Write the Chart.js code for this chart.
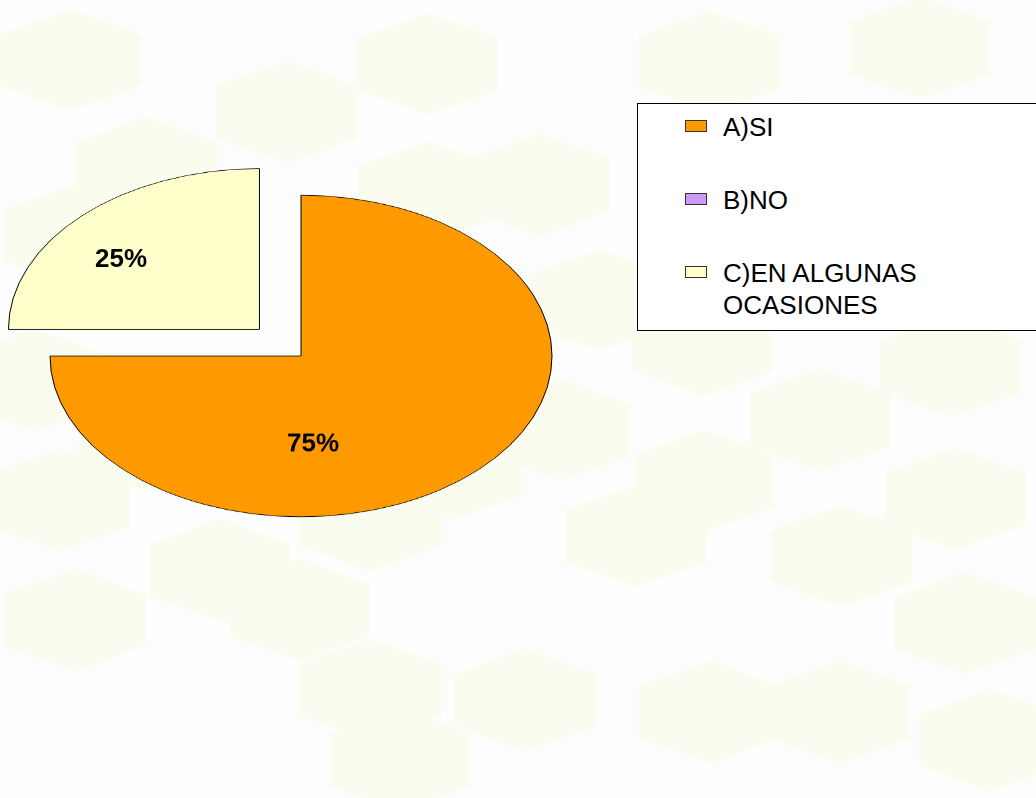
<!DOCTYPE html>
<html>
<head>
<meta charset="utf-8">
<title>Encuesta</title>
<script src="https://cdn.jsdelivr.net/npm/chart.js@4.4.0/dist/chart.umd.min.js"></script>
<style>
  body { margin: 0; width: 1036px; height: 798px; background: #fdfdfd; overflow: hidden; position: relative; font-family: "Liberation Sans", Arial, sans-serif; }
  #bg { position: absolute; left: 0; top: 0; }
  #pieWrap { position: absolute; left: 0; top: 151px; transform-origin: 0 0; transform: scaleY(0.6406); }
  #legend { position: absolute; left: 637px; top: 103px; width: 420px; height: 226px; border: 1px solid #000; background: #fff; }
  .item { position: absolute; left: 85px; font-size: 26px; line-height: 32px; color: #000; width: 260px; }
  .sw { position: absolute; left: -38px; top: 9px; width: 20px; height: 10px; border: 1px solid #333; }
</style>
</head>
<body>
<canvas id="bg" width="1036" height="798"></canvas>
<div id="pieWrap"><canvas id="pie" width="602" height="640"></canvas></div>
<div id="legend"></div>

<script>
  // data
  const opciones = ["A)SI", "B)NO", "C)EN ALGUNAS OCASIONES"];
  const respuestas = [75, 0, 25];
  const colores = ["#ff9900", "#cc99ff", "#ffffcc"];
  const separacion = [0, 0, 235];   // exploded slice (arc offset)

  // where each % label sits: angle (deg) from slice centre, fraction of radius
  const labelSpots = [{ ang: 85, dist: 0.55 }, null, { ang: 218, dist: 0.70 }];
  const squash = 410 / 640;

  // faint hexagon backdrop
  function drawBackground() {
    const ctx = document.getElementById('bg').getContext('2d');
    const hexes = [[71,60],[287,112],[427,64],[146,168],[428,192],[540,185],[710,62],[920,48],[800,150],
      [75,235],[35,380],[150,440],[60,500],[220,570],[75,620],[370,520],[370,690],[525,700],[710,712],
      [840,712],[636,536],[704,481],[841,556],[956,499],[965,623],[951,366],[703,345],[560,430],
      [450,470],[300,610],[400,760],[990,740],[600,300],[820,420]];
    ctx.fillStyle = '#fafcef';
    hexes.forEach(h => {
      const [cx, cy] = h;
      ctx.beginPath();
      ctx.moveTo(cx, cy - 51);
      ctx.lineTo(cx + 71, cy - 26);
      ctx.lineTo(cx + 71, cy + 26);
      ctx.lineTo(cx, cy + 51);
      ctx.lineTo(cx - 71, cy + 26);
      ctx.lineTo(cx - 71, cy - 26);
      ctx.closePath();
      ctx.fill();
    });
  }
  drawBackground();

  const pctLabels = {
    id: 'pctLabels',
    afterDatasetsDraw(chart) {
      const ctx = chart.ctx;
      const vals = chart.data.datasets[0].data;
      const total = vals.reduce((a, b) => a + b, 0);
      chart.getDatasetMeta(0).data.forEach((arc, i) => {
        const spot = labelSpots[i];
        if (!spot || !vals[i]) return;
        const mid = (arc.startAngle + arc.endAngle) / 2;
        const shift = (arc.options.offset || 0) / 4;
        const a = spot.ang * Math.PI / 180;
        const x = arc.x + Math.cos(mid) * shift + Math.cos(a) * arc.outerRadius * spot.dist;
        const y = arc.y + Math.sin(mid) * shift + Math.sin(a) * arc.outerRadius * spot.dist;
        ctx.save();
        ctx.translate(x, y);
        ctx.scale(1, 1 / squash);
        ctx.font = 'bold 26px "Liberation Sans", Arial, sans-serif';
        ctx.textAlign = 'center';
        ctx.textBaseline = 'middle';
        ctx.fillStyle = '#000';
        ctx.fillText(Math.round(vals[i] / total * 100) + '%', 0, 0);
        ctx.restore();
      });
    }
  };

  const chart = new Chart("pie", {
    type: "pie",
    data: {
      labels: opciones,
      datasets: [{
        data: respuestas,
        backgroundColor: colores,
        borderColor: "#000",
        borderWidth: 1,
        offset: separacion
      }]
    },
    options: {
      responsive: false,
      animation: false,
      radius: 251,
      layout: { padding: 0 },
      plugins: {
        legend: { display: false },
        tooltip: { enabled: false }
      }
    },
    plugins: [pctLabels]
  });

  // legend box built from the chart's own labels
  const legendEl = document.getElementById('legend');
  const rows = [7, 80, 153];
  chart.data.labels.forEach((lab, i) => {
    const item = document.createElement('div');
    item.className = 'item';
    item.style.top = rows[i] + 'px';
    const sw = document.createElement('span');
    sw.className = 'sw';
    sw.style.background = chart.data.datasets[0].backgroundColor[i];
    item.appendChild(sw);
    item.appendChild(document.createTextNode(lab));
    legendEl.appendChild(item);
  });
</script>
</body>
</html>
